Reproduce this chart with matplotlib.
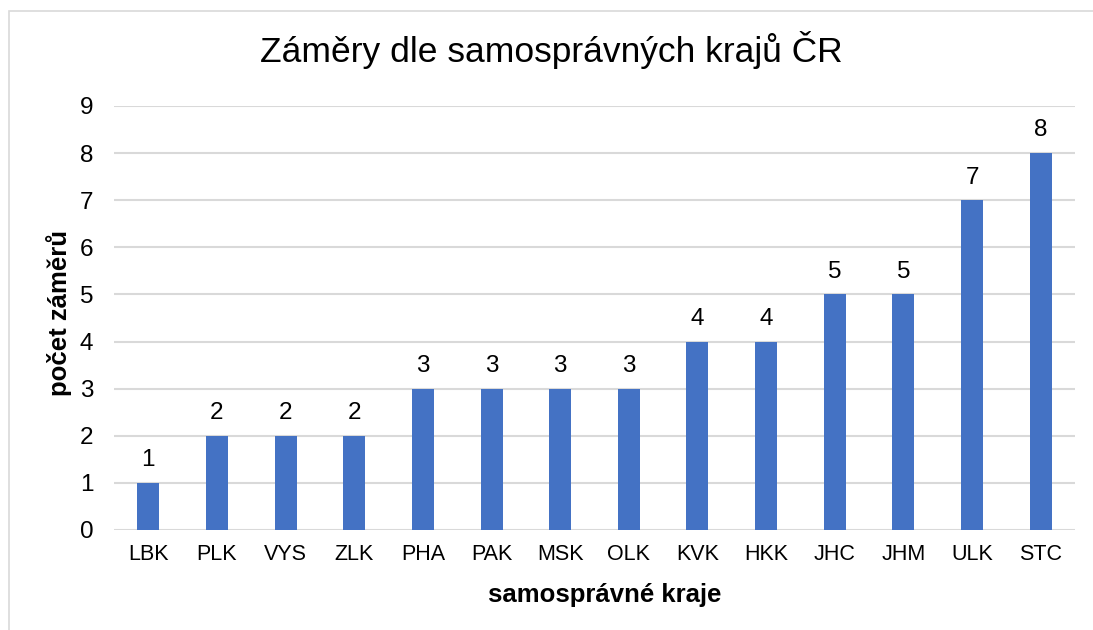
import matplotlib
matplotlib.use("Agg")
import matplotlib.pyplot as plt
from matplotlib.patches import Rectangle

categories = ["LBK", "PLK", "VYS", "ZLK", "PHA", "PAK", "MSK", "OLK", "KVK", "HKK", "JHC", "JHM", "ULK", "STC"]
values = [1, 2, 2, 2, 3, 3, 3, 3, 4, 4, 5, 5, 7, 8]
yticks = list(range(0, 10))

plt.rcParams['font.family'] = ['Liberation Sans', 'DejaVu Sans']

W, H = 1093, 630
fig = plt.figure(figsize=(W / 100, H / 100), dpi=100)
fig.patch.set_facecolor("white")

# outer chart border
fig.add_artist(Rectangle((8.5 / W, -0.05), 1.2, 1 - 10.5 / H + 0.05, transform=fig.transFigure,
                         fill=False, edgecolor="#D9D9D9", linewidth=1.2))

ax = fig.add_axes([114 / W, 1 - 530 / H, (1075 - 114) / W, (530 - 106) / H])
x = list(range(len(categories)))
ax.bar(x, values, width=0.32, color="#4472C4", zorder=3)
ax.set_xlim(-0.5, len(categories) - 0.5)
ax.set_ylim(0, 9)
ax.set_yticks(yticks)
ax.set_xticks(x)
ax.set_xticklabels(categories)
ax.grid(axis="y", color="#D9D9D9", linewidth=1.5, zorder=0)
for s in ax.spines.values():
    s.set_visible(False)
ax.tick_params(axis="both", length=0)
ax.tick_params(axis="y", labelsize=17.5, pad=15)
ax.tick_params(axis="x", labelsize=15.5, pad=10)

for xi, v in zip(x, values):
    ax.annotate(str(v), (xi, v), xytext=(0, 12), textcoords="offset points",
                ha="center", va="baseline", fontsize=17.5)

ax.set_xlabel("samosprávné kraje", fontsize=18.5, fontweight="bold")
ax.xaxis.set_label_coords((604.5 - 114) / 961, (530 - 601.7) / 424)
ax.xaxis.label.set_va("baseline")
ax.set_ylabel("počet záměrů", fontsize=18.5, fontweight="bold")
ax.yaxis.set_label_coords((59 - 114) / 961, (530 - 312.5) / 424)
ax.yaxis.label.set_va("center")

fig.text(551.2 / W, 1 - 61.7 / H, "Záměry dle samosprávných krajů ČR",
         ha="center", va="baseline", fontsize=25.5)

fig.savefig("out.png", dpi=100)
